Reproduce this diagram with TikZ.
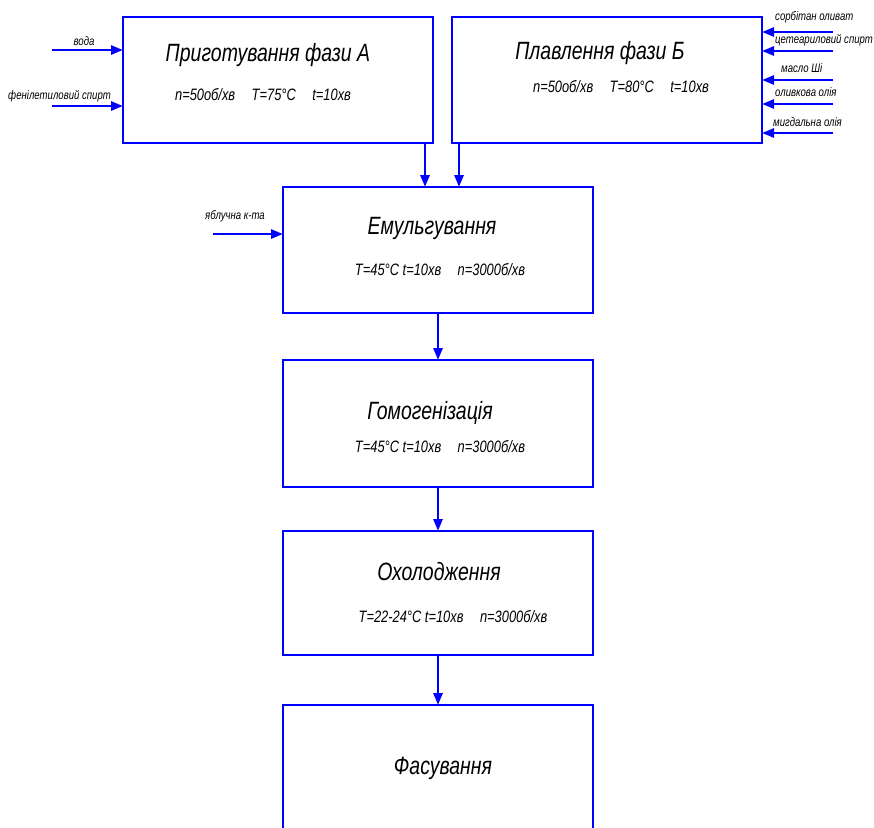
\documentclass[tikz,border=0pt]{standalone}
\usepackage{fontspec}
\setmainfont{Liberation Sans}[FakeStretch=0.78]
\usetikzlibrary{arrows.meta,calc}
\definecolor{lineblue}{RGB}{0,0,255}
\begin{document}
\begin{tikzpicture}[x=1pt,y=-1pt,
  font=\itshape,
  procbox/.style={draw=lineblue,line width=2.8pt,rectangle,minimum width=310pt,inner sep=0pt,outer sep=0pt},
  flow/.style={draw=lineblue,line width=2.8pt,-{Triangle[length=12pt,width=9pt]}},
  feed/.style={draw=lineblue,line width=2.8pt,-{Triangle[length=12pt,width=9pt]}},
  ttl/.style={font=\itshape\fontsize{25}{25}\selectfont,inner sep=0pt},
  prm/.style={font=\itshape\fontsize{16.5}{16.5}\selectfont,inner sep=0pt},
  lbl/.style={font=\itshape\fontsize{12.3}{12.3}\selectfont,inner sep=0pt}
]
\useasboundingbox (0,0) rectangle (874,827);
\clip (0,0) rectangle (874,827);

% process boxes
\node[procbox,minimum height=126pt] (A) at (278,80) {};
\node[procbox,minimum height=126pt] (B) at (607,80) {};
\node[procbox,minimum height=126pt] (E) at (438,250) {};
\node[procbox,minimum height=127pt] (G) at (438,423.5) {};
\node[procbox,minimum height=124pt] (O) at (438,593) {};
\node[procbox,minimum height=140pt] (F) at (438,775) {};

% box texts
\node[ttl] (At) at (268,55) {Приготування фази А};
\node[prm] (Ap) at (263,95) {n=50об/хв\quad T=75°C\quad t=10хв};
\node[ttl] (Bt) at (600,53) {Плавлення фази Б};
\node[prm] (Bp) at (621,87) {n=50об/хв\quad T=80°C\quad t=10хв};
\node[ttl] (Et) at (432,228) {Емульгування};
\node[prm] (Ep) at (440,270) {T=45°C t=10хв\quad n=3000б/хв};
\node[ttl] (Gt) at (430,413) {Гомогенізація};
\node[prm] (Gp) at (440,447) {T=45°C t=10хв\quad n=3000б/хв};
\node[ttl] (Ot) at (439,572) {Охолодження};
\node[prm] (Op) at (453,617) {T=22-24°C t=10хв\quad n=3000б/хв};
\node[ttl] (Ft) at (443,768) {Фасування};

% flow between boxes
\draw[flow] ([xshift=147pt]A.south) -- ([xshift=147pt]A.south |- E.north);
\draw[flow] ([xshift=-148pt]B.south) -- ([xshift=-148pt]B.south |- E.north);
\draw[flow] (E.south) -- (G.north);
\draw[flow] (G.south) -- (O.north);
\draw[flow] (O.south) -- (F.north);

% feeds into phase A
\coordinate (a1) at (52,50);
\coordinate (a2) at (52,106);
\draw[feed] (a1) -- (a1 -| A.west);
\draw[feed] (a2) -- (a2 -| A.west);
\node[lbl,anchor=south] (la1) at (84,46) {вода};
\node[lbl,anchor=south west] (la2) at (8,102) {фенілетиловий спирт};

% feed into emulsification
\coordinate (e1) at (213,234);
\draw[feed] (e1) -- (e1 -| E.west);
\node[lbl,anchor=south west] (le1) at (205,222) {яблучна к-та};

% feeds into phase B
\coordinate (b1) at (833,32);
\coordinate (b2) at (833,51);
\coordinate (b3) at (833,80);
\coordinate (b4) at (833,104);
\coordinate (b5) at (833,133);
\draw[feed] (b1) -- (b1 -| B.east);
\draw[feed] (b2) -- (b2 -| B.east);
\draw[feed] (b3) -- (b3 -| B.east);
\draw[feed] (b4) -- (b4 -| B.east);
\draw[feed] (b5) -- (b5 -| B.east);
\node[lbl,anchor=south west] (lb1) at (775,23) {сорбітан оливат};
\node[lbl,anchor=south west] (lb2) at (775,46) {цетеариловий спирт};
\node[lbl,anchor=south west] (lb3) at (781,73) {масло Ші};
\node[lbl,anchor=south west] (lb4) at (775,97) {оливкова олія};
\node[lbl,anchor=south west] (lb5) at (773,127) {мигдальна олія};
\end{tikzpicture}
\end{document}
